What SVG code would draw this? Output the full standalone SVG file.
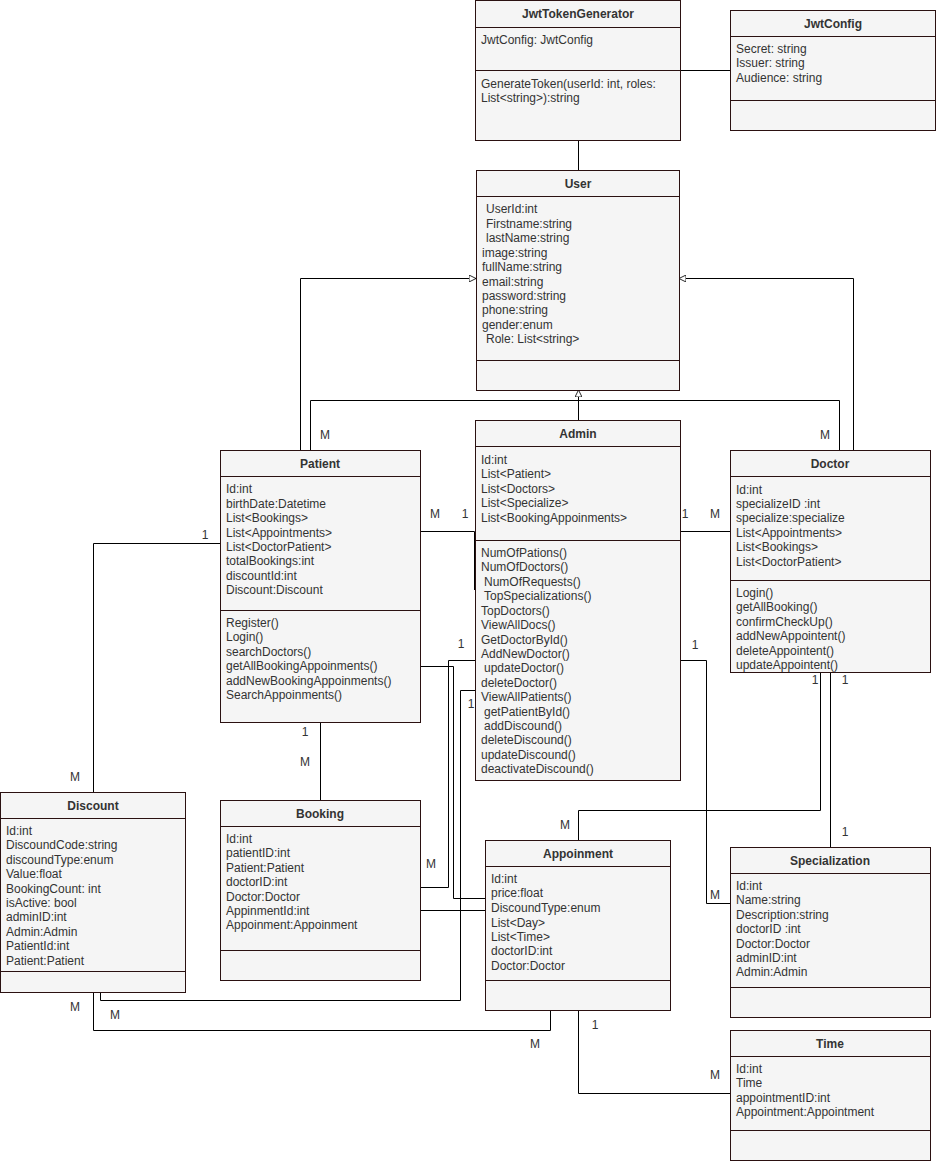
<svg xmlns="http://www.w3.org/2000/svg" width="937" height="1162" viewBox="0 0 937 1162">
<defs>
<style>
.box{fill:#f5f5f5;stroke:#2b1111;stroke-width:1}
.sep{stroke:#2b1111;stroke-width:1}
.t{font-family:'Liberation Sans',Arial,sans-serif;font-size:12px;fill:#333}
.h{font-family:'Liberation Sans',Arial,sans-serif;font-size:12px;font-weight:bold;fill:#333;text-anchor:middle}
.c{fill:none;stroke:#000;stroke-width:1}
.g{fill:none;stroke:#000;stroke-width:1}
.l{font-family:'Liberation Sans',Arial,sans-serif;font-size:12px;fill:#333;text-anchor:middle}
</style>
<marker id="tri" viewBox="0 0 10 10" refX="10" refY="5" markerWidth="7" markerHeight="7" markerUnits="userSpaceOnUse" orient="auto">
<path d="M0,0 L10,5 L0,10 Z" fill="#fff" stroke="#000" stroke-width="1.2"/>
</marker>
</defs>
<rect width="937" height="1162" fill="#fff"/>

<g id="connectors">
<path class="c" d="M680,70.5 H730"/>
<path class="c" d="M578.5,141 V170"/>
<path class="g" d="M300.5,450 V278.5 H476" marker-end="url(#tri)"/>
<path class="g" d="M853.5,450 V278.5 H679" marker-end="url(#tri)"/>
<path class="g" d="M578.5,420 V390" marker-end="url(#tri)"/>
<path class="c" d="M310.5,450 V400.5 H839.5 V450"/>
<path class="c" d="M420,531.5 H474.5 V590"/>
<path class="c" d="M680,531.5 H730"/>
<path class="c" d="M220,543.5 H93.5 V792"/>
<path class="c" d="M320.5,722 V800"/>
<path class="c" d="M475,660.5 H448.5 V887.5 H420"/>
<path class="c" d="M420,666.5 H453.5 V898.5 H485"/>
<path class="c" d="M420,910.5 H485"/>
<path class="c" d="M475,690.5 H460.5 V1000.5 H100.5 V992"/>
<path class="c" d="M93.5,992 V1030.5 H550.5 V1010"/>
<path class="c" d="M578.5,1010 V1093.5 H730"/>
<path class="c" d="M680,660.5 H706.5 V903.5 H730"/>
<path class="c" d="M820.5,672 V810.5 H578.5 V840"/>
<path class="c" d="M830.5,672 V847"/>
<text class="l" x="325" y="439">M</text>
<text class="l" x="825" y="439">M</text>
<text class="l" x="435" y="518">M</text>
<text class="l" x="465" y="518">1</text>
<text class="l" x="685" y="518">1</text>
<text class="l" x="715" y="518">M</text>
<text class="l" x="205" y="539">1</text>
<text class="l" x="75" y="781">M</text>
<text class="l" x="305" y="736">1</text>
<text class="l" x="305" y="766">M</text>
<text class="l" x="461" y="648">1</text>
<text class="l" x="471" y="708">1</text>
<text class="l" x="695" y="649">1</text>
<text class="l" x="431" y="868">M</text>
<text class="l" x="565" y="829">M</text>
<text class="l" x="815" y="684">1</text>
<text class="l" x="845" y="684">1</text>
<text class="l" x="845" y="836">1</text>
<text class="l" x="715" y="899">M</text>
<text class="l" x="75" y="1011">M</text>
<text class="l" x="115" y="1019">M</text>
<text class="l" x="535" y="1048">M</text>
<text class="l" x="595" y="1029">1</text>
<text class="l" x="715" y="1079">M</text>
</g>

<g id="JwtTokenGenerator">
<rect class="box" x="475.5" y="0.5" width="205" height="140"/>
<line class="sep" x1="475.5" y1="27.5" x2="680.5" y2="27.5"/>
<line class="sep" x1="475.5" y1="70.5" x2="680.5" y2="70.5"/>
<text class="h" x="578" y="18">JwtTokenGenerator</text>
<text class="t" x="481" y="44">JwtConfig: JwtConfig</text>
<text class="t" x="481" y="88">GenerateToken(userId: int, roles:</text>
<text class="t" x="481" y="102">List&lt;string&gt;):string</text>
</g>

<g id="JwtConfig">
<rect class="box" x="730.5" y="10.5" width="205" height="120"/>
<line class="sep" x1="730.5" y1="36.5" x2="935.5" y2="36.5"/>
<line class="sep" x1="730.5" y1="100.5" x2="935.5" y2="100.5"/>
<text class="h" x="833" y="28">JwtConfig</text>
<text class="t" x="736" y="53">Secret: string</text>
<text class="t" x="736" y="67">Issuer: string</text>
<text class="t" x="736" y="82">Audience: string</text>
</g>

<g id="User">
<rect class="box" x="476.5" y="170.5" width="203" height="220"/>
<line class="sep" x1="476.5" y1="196.5" x2="679.5" y2="196.5"/>
<line class="sep" x1="476.5" y1="360.5" x2="679.5" y2="360.5"/>
<text class="h" x="578" y="188">User</text>
<text class="t" x="486" y="213">UserId:int</text>
<text class="t" x="486" y="228">Firstname:string</text>
<text class="t" x="486" y="242">lastName:string</text>
<text class="t" x="482" y="257">image:string</text>
<text class="t" x="482" y="271">fullName:string</text>
<text class="t" x="482" y="286">email:string</text>
<text class="t" x="482" y="300">password:string</text>
<text class="t" x="482" y="314">phone:string</text>
<text class="t" x="482" y="329">gender:enum</text>
<text class="t" x="486" y="343">Role: List&lt;string&gt;</text>
</g>

<g id="Patient">
<rect class="box" x="220.5" y="450.5" width="200" height="272"/>
<line class="sep" x1="220.5" y1="476.5" x2="420.5" y2="476.5"/>
<line class="sep" x1="220.5" y1="610.5" x2="420.5" y2="610.5"/>
<text class="h" x="320" y="468">Patient</text>
<text class="t" x="226" y="493">Id:int</text>
<text class="t" x="226" y="508">birthDate:Datetime</text>
<text class="t" x="226" y="522">List&lt;Bookings&gt;</text>
<text class="t" x="226" y="537">List&lt;Appointments&gt;</text>
<text class="t" x="226" y="551">List&lt;DoctorPatient&gt;</text>
<text class="t" x="226" y="565">totalBookings:int</text>
<text class="t" x="226" y="580">discountId:int</text>
<text class="t" x="226" y="594">Discount:Discount</text>
<text class="t" x="226" y="627">Register()</text>
<text class="t" x="226" y="641">Login()</text>
<text class="t" x="226" y="656">searchDoctors()</text>
<text class="t" x="226" y="670">getAllBookingAppoinments()</text>
<text class="t" x="226" y="685">addNewBookingAppoinments()</text>
<text class="t" x="226" y="699">SearchAppoinments()</text>
</g>

<g id="Admin">
<rect class="box" x="475.5" y="420.5" width="205" height="360"/>
<line class="sep" x1="475.5" y1="446.5" x2="680.5" y2="446.5"/>
<line class="sep" x1="475.5" y1="540.5" x2="680.5" y2="540.5"/>
<text class="h" x="578" y="438">Admin</text>
<text class="t" x="481" y="464">Id:int</text>
<text class="t" x="481" y="478">List&lt;Patient&gt;</text>
<text class="t" x="481" y="493">List&lt;Doctors&gt;</text>
<text class="t" x="481" y="507">List&lt;Specialize&gt;</text>
<text class="t" x="481" y="522">List&lt;BookingAppoinments&gt;</text>
<text class="t" x="481" y="557">NumOfPations()</text>
<text class="t" x="481" y="571">NumOfDoctors()</text>
<text class="t" x="484" y="586">NumOfRequests()</text>
<text class="t" x="484" y="600">TopSpecializations()</text>
<text class="t" x="481" y="615">TopDoctors()</text>
<text class="t" x="481" y="629">ViewAllDocs()</text>
<text class="t" x="481" y="644">GetDoctorById()</text>
<text class="t" x="481" y="658">AddNewDoctor()</text>
<text class="t" x="484" y="672">updateDoctor()</text>
<text class="t" x="481" y="687">deleteDoctor()</text>
<text class="t" x="481" y="701">ViewAllPatients()</text>
<text class="t" x="484" y="716">getPatientById()</text>
<text class="t" x="484" y="730">addDiscound()</text>
<text class="t" x="481" y="744">deleteDiscound()</text>
<text class="t" x="481" y="759">updateDiscound()</text>
<text class="t" x="481" y="773">deactivateDiscound()</text>
</g>

<g id="Doctor">
<rect class="box" x="730.5" y="450.5" width="200" height="222"/>
<line class="sep" x1="730.5" y1="476.5" x2="930.5" y2="476.5"/>
<line class="sep" x1="730.5" y1="580.5" x2="930.5" y2="580.5"/>
<text class="h" x="830" y="468">Doctor</text>
<text class="t" x="736" y="494">Id:int</text>
<text class="t" x="736" y="508">specializeID :int</text>
<text class="t" x="736" y="522">specialize:specialize</text>
<text class="t" x="736" y="537">List&lt;Appointments&gt;</text>
<text class="t" x="736" y="551">List&lt;Bookings&gt;</text>
<text class="t" x="736" y="566">List&lt;DoctorPatient&gt;</text>
<text class="t" x="736" y="597">Login()</text>
<text class="t" x="736" y="611">getAllBooking()</text>
<text class="t" x="736" y="626">confirmCheckUp()</text>
<text class="t" x="736" y="640">addNewAppointent()</text>
<text class="t" x="736" y="655">deleteAppointent()</text>
<text class="t" x="736" y="669">updateAppointent()</text>
</g>

<g id="Discount">
<rect class="box" x="0.5" y="792.5" width="185" height="200"/>
<line class="sep" x1="0.5" y1="818.5" x2="185.5" y2="818.5"/>
<line class="sep" x1="0.5" y1="971.5" x2="185.5" y2="971.5"/>
<text class="h" x="93" y="810">Discount</text>
<text class="t" x="6" y="835">Id:int</text>
<text class="t" x="6" y="849">DiscoundCode:string</text>
<text class="t" x="6" y="864">discoundType:enum</text>
<text class="t" x="6" y="878">Value:float</text>
<text class="t" x="6" y="893">BookingCount: int</text>
<text class="t" x="6" y="907">isActive: bool</text>
<text class="t" x="6" y="921">adminID:int</text>
<text class="t" x="6" y="936">Admin:Admin</text>
<text class="t" x="6" y="950">PatientId:int</text>
<text class="t" x="6" y="965">Patient:Patient</text>
</g>

<g id="Booking">
<rect class="box" x="220.5" y="800.5" width="200" height="180"/>
<line class="sep" x1="220.5" y1="826.5" x2="420.5" y2="826.5"/>
<line class="sep" x1="220.5" y1="950.5" x2="420.5" y2="950.5"/>
<text class="h" x="320" y="818">Booking</text>
<text class="t" x="226" y="843">Id:int</text>
<text class="t" x="226" y="857">patientID:int</text>
<text class="t" x="226" y="872">Patient:Patient</text>
<text class="t" x="226" y="886">doctorID:int</text>
<text class="t" x="226" y="901">Doctor:Doctor</text>
<text class="t" x="226" y="915">AppinmentId:int</text>
<text class="t" x="226" y="929">Appoinment:Appoinment</text>
</g>

<g id="Appoinment">
<rect class="box" x="485.5" y="840.5" width="185" height="170"/>
<line class="sep" x1="485.5" y1="866.5" x2="670.5" y2="866.5"/>
<line class="sep" x1="485.5" y1="980.5" x2="670.5" y2="980.5"/>
<text class="h" x="578" y="858">Appoinment</text>
<text class="t" x="491" y="883">Id:int</text>
<text class="t" x="491" y="897">price:float</text>
<text class="t" x="491" y="912">DiscoundType:enum</text>
<text class="t" x="491" y="927">List&lt;Day&gt;</text>
<text class="t" x="491" y="941">List&lt;Time&gt;</text>
<text class="t" x="491" y="955">doctorID:int</text>
<text class="t" x="491" y="970">Doctor:Doctor</text>
</g>

<g id="Specialization">
<rect class="box" x="730.5" y="847.5" width="200" height="170"/>
<line class="sep" x1="730.5" y1="873.5" x2="930.5" y2="873.5"/>
<line class="sep" x1="730.5" y1="987.5" x2="930.5" y2="987.5"/>
<text class="h" x="830" y="865">Specialization</text>
<text class="t" x="736" y="890">Id:int</text>
<text class="t" x="736" y="904">Name:string</text>
<text class="t" x="736" y="919">Description:string</text>
<text class="t" x="736" y="933">doctorID :int</text>
<text class="t" x="736" y="948">Doctor:Doctor</text>
<text class="t" x="736" y="962">adminID:int</text>
<text class="t" x="736" y="976">Admin:Admin</text>
</g>

<g id="Time">
<rect class="box" x="730.5" y="1030.5" width="200" height="130"/>
<line class="sep" x1="730.5" y1="1056.5" x2="930.5" y2="1056.5"/>
<line class="sep" x1="730.5" y1="1130.5" x2="930.5" y2="1130.5"/>
<text class="h" x="830" y="1048">Time</text>
<text class="t" x="736" y="1073">Id:int</text>
<text class="t" x="736" y="1087">Time</text>
<text class="t" x="736" y="1102">appointmentID:int</text>
<text class="t" x="736" y="1116">Appointment:Appointment</text>
</g>
</svg>
